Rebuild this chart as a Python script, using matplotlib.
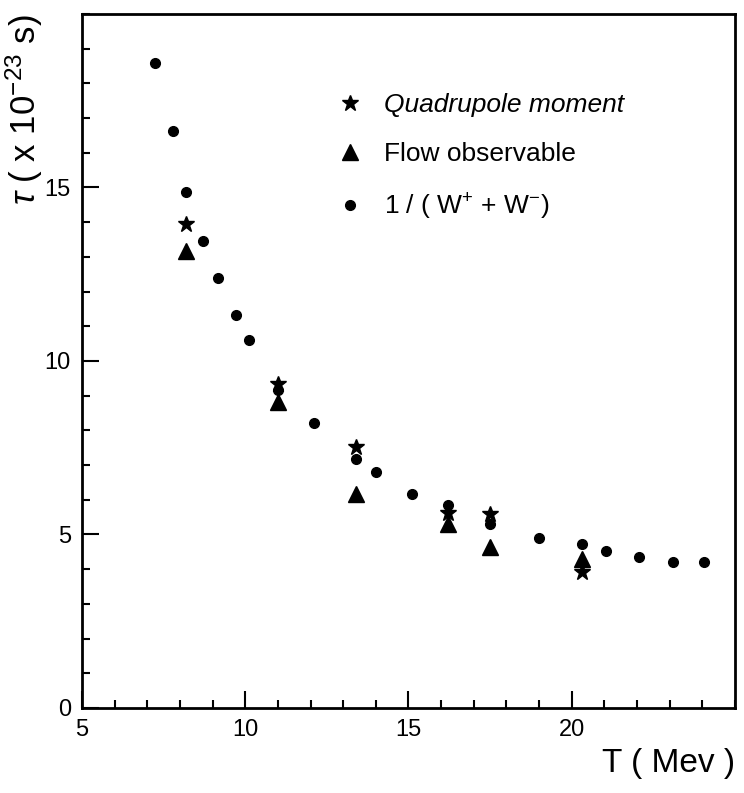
import matplotlib
matplotlib.use("Agg")
import matplotlib.pyplot as plt
from matplotlib.ticker import MultipleLocator

# ── data: lifetime vs. temperature ────
# 1 / (W+ + W-) curve
w_T   = [7.25, 7.78, 8.18, 8.7, 9.18, 9.72, 10.1, 11.0, 12.1, 13.4,
         14.0, 15.1, 16.2, 17.5, 19.0, 20.3, 21.05, 22.05, 23.1, 24.05]
w_tau = [18.58, 16.62, 14.88, 13.47, 12.4, 11.33, 10.6, 9.15, 8.2, 7.17,
         6.79, 6.18, 5.84, 5.29, 4.91, 4.74, 4.51, 4.36, 4.22, 4.22]

# quadrupole moment
q_T   = [8.2, 11.0, 13.4, 16.2, 17.5, 20.3]
q_tau = [13.96, 9.33, 7.51, 5.63, 5.58, 3.93]

# flow observable
f_T   = [8.2, 11.0, 13.4, 16.2, 17.5, 20.3]
f_tau = [13.18, 8.82, 6.16, 5.29, 4.65, 4.28]

plt.rcParams["font.family"] = ["Liberation Sans", "DejaVu Sans"]
plt.rcParams["mathtext.fontset"] = "custom"
plt.rcParams["mathtext.rm"] = "Liberation Sans"
plt.rcParams["mathtext.it"] = "Liberation Sans:italic"

fig = plt.figure(figsize=(7.44, 7.93), dpi=100)
ax = fig.add_axes([0.1102, 0.1072, 0.8777, 0.8752])

ax.plot(q_T, q_tau, linestyle="none", marker="*", markersize=12,
        color="black", label="Quadrupole moment", zorder=4)
ax.plot(f_T, f_tau, linestyle="none", marker="^", markersize=11,
        color="black", label="Flow observable", zorder=3)
ax.plot(w_T, w_tau, linestyle="none", marker="o", markersize=7,
        color="black", label=r"1 / ( W$^{+}$ + W$^{-}$)", zorder=5)

ax.set_xlim(5, 25)
ax.set_ylim(0, 20)
ax.xaxis.set_minor_locator(MultipleLocator(1))
ax.yaxis.set_minor_locator(MultipleLocator(1))
ax.set_xticks([5, 10, 15, 20])
ax.set_yticks([0, 5, 10, 15])

ax.tick_params(which="both", direction="in", top=False, right=False,
               labelsize=17, width=1.5)
ax.tick_params(which="major", length=12, pad=8)
ax.tick_params(which="minor", length=6)
for spine in ax.spines.values():
    spine.set_linewidth(2)

ax.set_xlabel("T ( Mev )", fontsize=24, loc="right", labelpad=5)
ax.set_ylabel(r"$\tau$ ( x 10$^{-23}$ s)", fontsize=25, loc="top", labelpad=0)

leg = ax.legend(loc="upper left", bbox_to_anchor=(0.354, 0.92), frameon=False,
                fontsize=19, handlelength=1.0, handletextpad=0.8,
                labelspacing=0.95, numpoints=1)
leg.get_texts()[0].set_style("italic")

fig.savefig("out.png", dpi=100)
